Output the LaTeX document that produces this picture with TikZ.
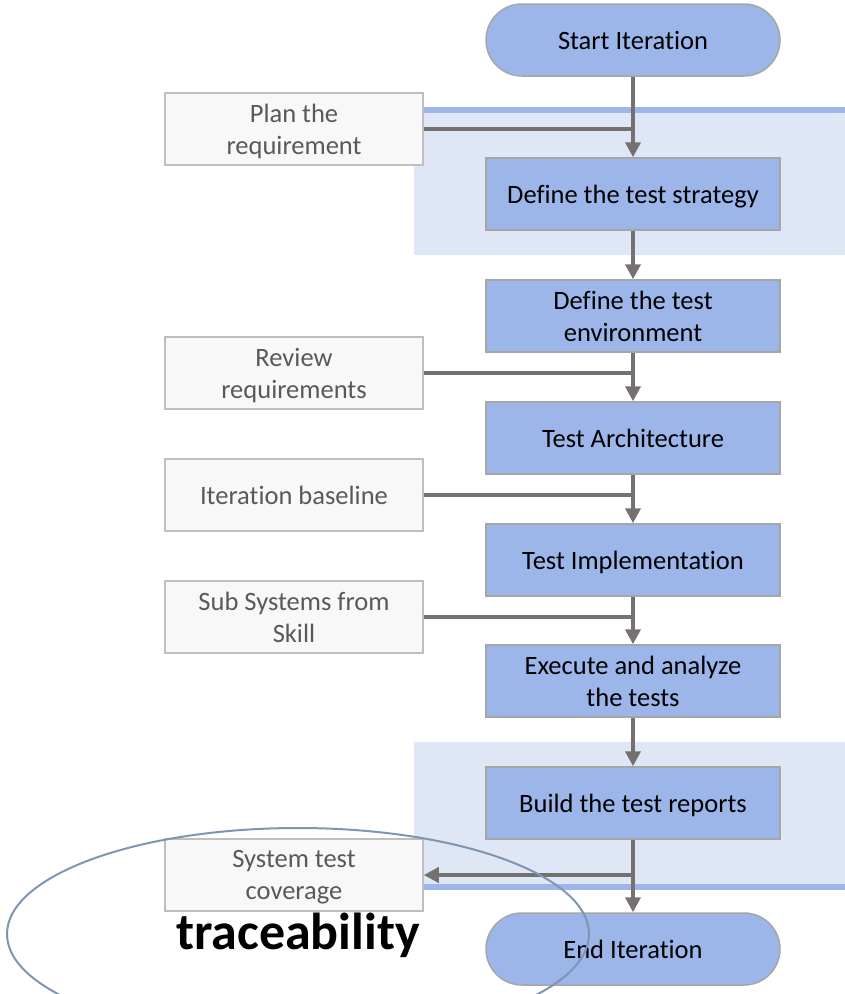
\documentclass[tikz,border=0pt]{standalone}
\usepackage{fontspec}
\setmainfont{Carlito}[Ligatures=NoCommon]
\usetikzlibrary{arrows.meta}

\definecolor{stepfill}{HTML}{9DB6EA}
\definecolor{stepline}{HTML}{A6A6A6}
\definecolor{bandfill}{HTML}{DFE6F6}
\definecolor{bandstripe}{HTML}{9DB5E8}
\definecolor{infill}{HTML}{F8F8F8}
\definecolor{inline}{HTML}{BFBFBF}
\definecolor{intext}{HTML}{595959}
\definecolor{flowgray}{HTML}{767171}
\definecolor{loopblue}{HTML}{7F96B2}

\newcommand\diagfont{\fontsize{26.5}{32}\selectfont}

\begin{document}
\begin{tikzpicture}[x=1pt,y=-1pt,
  stepbox/.style={rectangle, draw=stepline, line width=1.5pt, fill=stepfill,
    minimum width=294pt, minimum height=72pt, align=center, inner sep=0pt,
    text depth=0pt, font=\diagfont, text=black},
  terminal/.style={stepbox, rounded corners=36pt},
  inputbox/.style={rectangle, draw=inline, line width=1.5pt, fill=infill,
    minimum width=258pt, minimum height=72pt, align=center, inner sep=0pt,
    text depth=0pt, font=\diagfont, text=intext},
  flow/.style={draw=flowgray, line width=4pt},
  flowarrow/.style={flow, -{Triangle[length=15pt,width=15pt]}},
]
\useasboundingbox (0,0) rectangle (845,994);

% highlighted swim bands
\fill[bandfill] (414,107) rectangle (845,255);
\fill[bandstripe] (414,107) rectangle (845,113);
\fill[bandfill] (414,742) rectangle (845,890);
\fill[bandstripe] (414,884) rectangle (845,890);

% main process steps
\node[terminal] (start)    at (633,40)  {Start Iteration};
\node[stepbox]  (strategy) at (633,194) {Define the test strategy};
\node[stepbox]  (env)      at (633,316) {Define the test\\environment};
\node[stepbox]  (arch)     at (633,438) {Test Architecture};
\node[stepbox]  (impl)     at (633,560) {Test Implementation};
\node[stepbox]  (exec)     at (633,681) {Execute and analyze\\the tests};
\node[stepbox]  (build)    at (633,803) {Build the test reports};
\node[terminal] (end)      at (633,949) {End Iteration};

% inputs and outputs
\node[inputbox] (plan)     at (294,129) {Plan the\\requirement};
\node[inputbox] (review)   at (294,373) {Review\\requirements};
\node[inputbox] (baseline) at (294,495) {Iteration baseline};
\node[inputbox] (subsys)   at (294,617) {Sub Systems from\\Skill};
\node[inputbox] (coverage) at (294,875) {System test\\coverage};

% main flow
\draw[flowarrow] (start) -- (strategy);
\draw[flowarrow] (strategy) -- (env);
\draw[flowarrow] (env) -- (arch);
\draw[flowarrow] (arch) -- (impl);
\draw[flowarrow] (impl) -- (exec);
\draw[flowarrow] (exec) -- (build);
\draw[flowarrow] (build) -- (end);

% inputs joining the flow
\draw[flow] (plan.east) -- (plan.east -| start.south);
\draw[flow] (review.east) -- (review.east -| env.south);
\draw[flow] (baseline.east) -- (baseline.east -| arch.south);
\draw[flow] (subsys.east) -- (subsys.east -| impl.south);

% output leaving the flow
\draw[flowarrow] (build.south |- coverage.east) -- (coverage.east);

% traceability annotation
\node[anchor=base, font=\fontsize{52}{60}\selectfont\bfseries, text=black]
  (trace) at (298,949) {traceability};
\begin{scope}
  \clip (0,0) rectangle (845,994);
  \draw[loopblue, line width=2pt] (298,934) ellipse [x radius=291pt, y radius=106pt];
\end{scope}
\end{tikzpicture}
\end{document}
